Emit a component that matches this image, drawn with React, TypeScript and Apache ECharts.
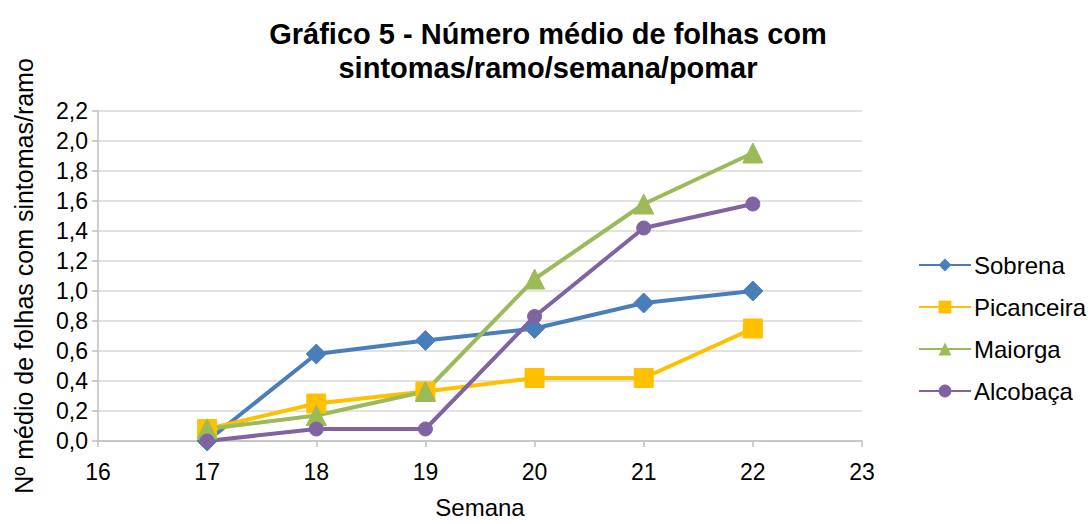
import React, { useEffect, useRef } from "react";
import * as echarts from "echarts";

const weeks = [17, 18, 19, 20, 21, 22];
const sobrena = [0.0, 0.58, 0.67, 0.75, 0.92, 1.0];
const picanceira = [0.08, 0.25, 0.33, 0.42, 0.42, 0.75];
const maiorga = [0.08, 0.17, 0.33, 1.08, 1.58, 1.92];
const alcobaca = [0.0, 0.08, 0.08, 0.83, 1.42, 1.58];

const seriesDefs = [
  { name: "Sobrena", data: sobrena, color: "#4A7EBB", symbol: "diamond", size: 20 },
  { name: "Picanceira", data: picanceira, color: "#FFC000", symbol: "rect", size: 19 },
  { name: "Maiorga", data: maiorga, color: "#9BBB59", symbol: "triangle", size: 20 },
  { name: "Alcobaça", data: alcobaca, color: "#8064A2", symbol: "circle", size: 14 },
];

const FONT = "'Liberation Sans', Arial, sans-serif";

export default function App() {
  const ref = useRef<HTMLDivElement>(null);
  useEffect(() => {
    if (!ref.current) return;
    const chart = echarts.init(ref.current, undefined, { renderer: "svg" });
    chart.setOption({
      animation: false,
      backgroundColor: "#ffffff",
      title: {
        text: "Gráfico 5 - Número médio de folhas com\nsintomas/ramo/semana/pomar",
        left: 543,
        textAlign: "center",
        top: 12,
        textStyle: { fontFamily: FONT, fontSize: 29, fontWeight: "bold", color: "#000", lineHeight: 34 },
      },
      legend: {
        orient: "vertical",
        left: 913,
        top: 248,
        itemWidth: 52,
        itemHeight: 16,
        itemGap: 18,
        textStyle: { fontFamily: FONT, fontSize: 24, color: "#000", padding: [0, 0, 0, -2] },
        data: seriesDefs.map((s) => s.name),
      },
      grid: { left: 98, right: 226, top: 111, bottom: 74 },
      xAxis: {
        type: "value",
        min: 16,
        max: 23,
        interval: 1,
        name: "Semana",
        nameLocation: "middle",
        nameGap: 54,
        nameTextStyle: { fontFamily: FONT, fontSize: 24, color: "#000" },
        axisLine: { show: true, lineStyle: { color: "#BFBFBF", width: 1.5 } },
        axisTick: { show: true, length: 6, lineStyle: { color: "#BFBFBF", width: 1.5 } },
        axisLabel: { fontFamily: FONT, fontSize: 23, color: "#000", margin: 19 },
        splitLine: { show: false },
      },
      yAxis: {
        type: "value",
        min: 0,
        max: 2.2,
        interval: 0.2,
        name: "Nº médio de folhas com sintomas/ramo",
        nameLocation: "middle",
        nameRotate: 90,
        nameGap: 62,
        nameTextStyle: { fontFamily: FONT, fontSize: 25, color: "#000" },
        axisLine: { show: true, lineStyle: { color: "#BFBFBF", width: 1.5 } },
        axisTick: { show: true, length: 6, lineStyle: { color: "#BFBFBF", width: 1.5 } },
        axisLabel: {
          fontFamily: FONT,
          fontSize: 23,
          color: "#000",
          margin: 10,
          formatter: (v: number) => v.toFixed(1).replace(".", ","),
        },
        splitLine: { show: true, lineStyle: { color: "#D9D9D9", width: 1.5 } },
      },
      series: seriesDefs.map((s) => ({
        name: s.name,
        type: "line",
        data: weeks.map((w, i) => [w, s.data[i]]),
        symbol: s.symbol,
        symbolSize: s.size,
        showAllSymbol: true,
        lineStyle: { color: s.color, width: 4 },
        itemStyle: { color: s.color, borderColor: s.color },
      })),
    });
    return () => chart.dispose();
  }, []);
  return <div ref={ref} style={{ width: 1088, height: 524, position: "absolute", left: 0, top: 0 }} />;
}
